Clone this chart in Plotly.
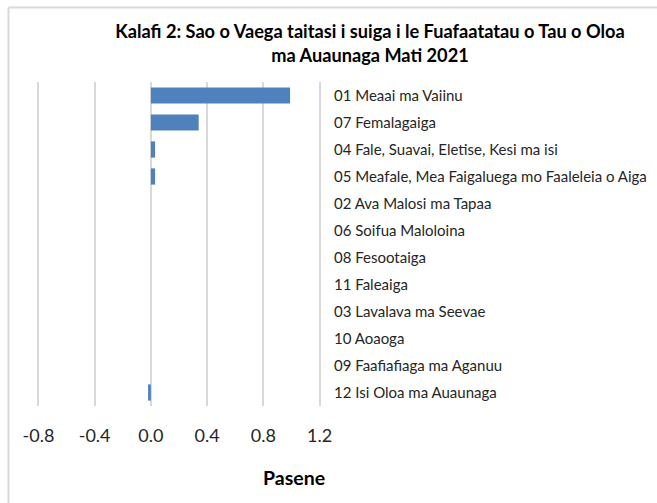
import plotly.graph_objects as go

categories = [
    "01 Meaai ma Vaiinu",
    "07 Femalagaiga",
    "04 Fale, Suavai, Eletise, Kesi ma isi",
    "05 Meafale, Mea Faigaluega mo Faaleleia o Aiga",
    "02 Ava Malosi ma Tapaa",
    "06 Soifua Maloloina",
    "08 Fesootaiga",
    "11 Faleaiga",
    "03 Lavalava ma Seevae",
    "10 Aoaoga",
    "09 Faafiafiaga ma Aganuu",
    "12 Isi Oloa ma Auaunaga",
]
values = [0.99, 0.34, 0.03, 0.03, 0.0, 0.0, 0.0, 0.0, 0.0, 0.0, 0.0, -0.02]
tick_vals = [-0.8, -0.4, 0.0, 0.4, 0.8, 1.2]
tick_text = ["-0.8", "-0.4", "0.0", "0.4", "0.8", "1.2"]

title_text = "Kalafi 2: Sao o Vaega taitasi i suiga i le Fuafaatatau o Tau o Oloa<br>ma Auaunaga Mati 2021"
x_title = "Pasene"

font_family = "Lato, Carlito, Calibri, 'Open Sans', sans-serif"

# plot area geometry (pixels)
L, R, T, B = 36.6, 321.4, 82, 406
W, H = 657, 503
pw, ph = R - L, B - T


def px(xp):
    return (xp - L) / pw


def py(yp):
    return (B - yp) / ph


fig = go.Figure(
    go.Bar(
        x=values,
        y=categories,
        orientation="h",
        marker=dict(color="#4F81BD", line=dict(width=0)),
        width=0.6,
    )
)

fig.update_layout(
    width=W,
    height=H,
    margin=dict(l=L, r=W - R, t=T, b=H - B, autoexpand=False),
    paper_bgcolor="white",
    plot_bgcolor="white",
    showlegend=False,
    font=dict(family=font_family, color="#262626"),
    title=dict(
        text="<b>" + title_text + "</b>",
        x=370 / W,
        xanchor="center",
        y=1 - 38 / H,
        yanchor="middle",
        font=dict(size=18.2, color="#000000", family=font_family),
    ),
    xaxis=dict(
        range=[-0.81, 1.21],
        tickvals=tick_vals,
        ticktext=tick_text,
        showgrid=True,
        gridcolor="#D9D9D9",
        gridwidth=1.5,
        zeroline=False,
        showline=False,
        ticks="",
        automargin=False,
        ticklabelstandoff=17,
        tickfont=dict(size=18, color="#262626"),
    ),
    yaxis=dict(
        categoryorder="array",
        categoryarray=categories,
        autorange="reversed",
        side="right",
        showgrid=False,
        zeroline=False,
        showline=False,
        ticks="",
        automargin=False,
        ticklabelstandoff=12,
        tickfont=dict(size=15, color="#262626"),
    ),
    annotations=[
        dict(
            text="<b>" + x_title + "</b>",
            xref="paper",
            yref="paper",
            x=px(294),
            y=py(477),
            xanchor="center",
            yanchor="middle",
            showarrow=False,
            font=dict(size=19.5, color="#000000", family=font_family),
        )
    ],
    shapes=[
        dict(type="line", xref="paper", yref="paper",
             x0=px(8), x1=px(700), y0=py(7.5), y1=py(7.5),
             line=dict(color="#D9D9D9", width=2)),
        dict(type="line", xref="paper", yref="paper",
             x0=px(8), x1=px(8), y0=py(7.5), y1=py(600),
             line=dict(color="#D9D9D9", width=2)),
    ],
)

fig.write_html(
    "out.html",
    config={"displayModeBar": False},
    post_script="document.body.style.margin='0';document.body.style.padding='0';",
)
